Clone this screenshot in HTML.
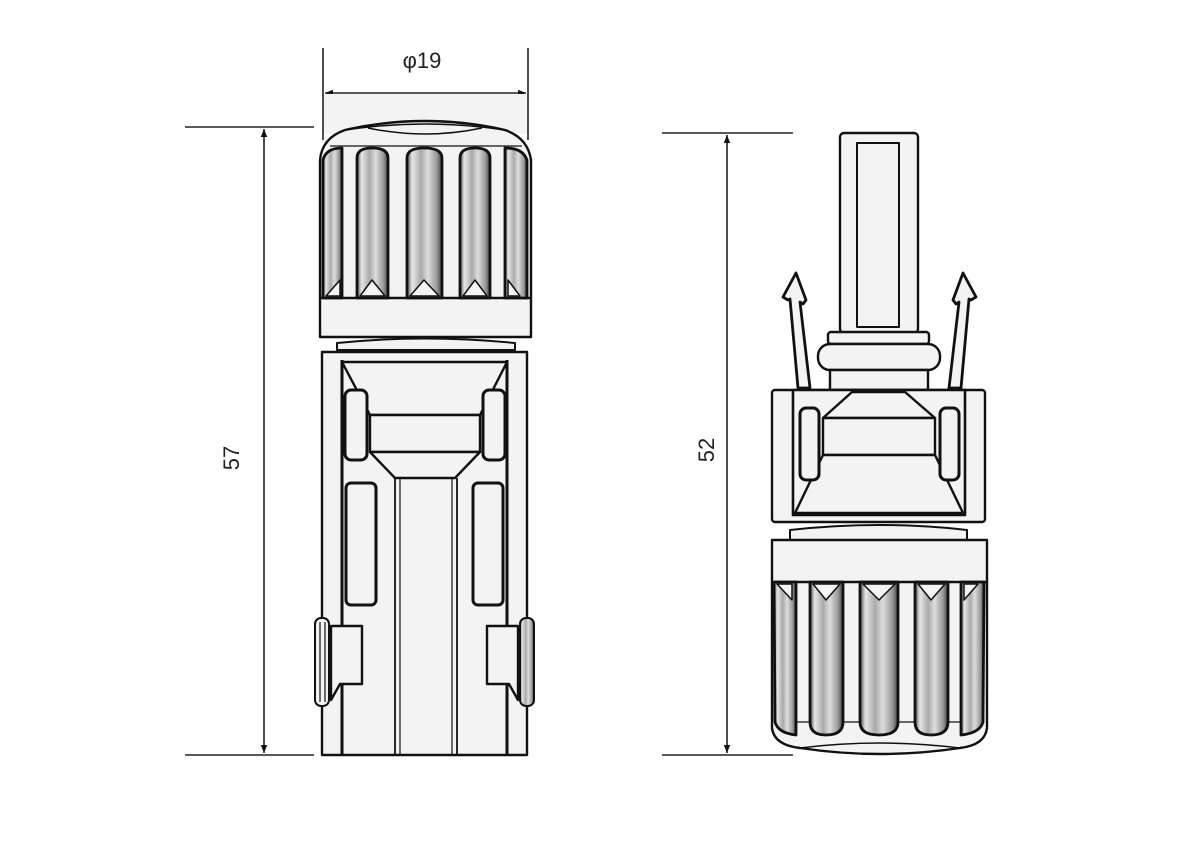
<!DOCTYPE html>
<html><head><meta charset="utf-8"><style>
html,body{margin:0;padding:0;background:#fff;}
svg{display:block;}
text{font-family:"Liberation Sans",sans-serif;fill:#222;}
</style></head><body>
<svg width="1200" height="862" viewBox="0 0 1200 862" xmlns="http://www.w3.org/2000/svg">
<defs>
<linearGradient id="rib" x1="0" x2="1">
<stop offset="0" stop-color="#555"/><stop offset="0.15" stop-color="#e6e6e6"/><stop offset="0.4" stop-color="#aaa"/><stop offset="0.6" stop-color="#ddd"/><stop offset="0.85" stop-color="#999"/><stop offset="1" stop-color="#444"/>
</linearGradient>
<marker id="ar" viewBox="0 0 10 10" refX="10" refY="5" markerWidth="10" markerHeight="8" orient="auto-start-reverse" markerUnits="userSpaceOnUse">
<path d="M0,1 L10,5 L0,9 z" fill="#111"/></marker>
</defs>

<g stroke="#222" stroke-width="1.6" fill="none">
<line x1="185" y1="127" x2="314" y2="127"/>
<line x1="185" y1="755" x2="314" y2="755"/>
<line x1="264" y1="129" x2="264" y2="753" marker-start="url(#ar)" marker-end="url(#ar)"/>
<line x1="323" y1="48" x2="323" y2="140"/>
<line x1="528" y1="48" x2="528" y2="140"/>
<line x1="325" y1="93" x2="526" y2="93" marker-start="url(#ar)" marker-end="url(#ar)"/>
</g>
<rect x="324" y="94" width="203" height="40" fill="#f3f3f3"/>
<text x="422" y="68" font-size="22" text-anchor="middle">φ19</text>
<text x="0" y="0" font-size="22" text-anchor="middle" transform="translate(239,458) rotate(-90)">57</text>

<g stroke="#111" stroke-width="2.4" fill="#f3f3f3" stroke-linejoin="round">
<path d="M320,337 L320,160 Q322,138 345,130 Q425,112 505,130 Q528,138 531,160 L531,337 Z"/>
<path d="M345,130 Q425,118 505,130" fill="none" stroke-width="1.5"/>
<path d="M368,128 Q425,140 482,128" fill="none" stroke-width="1.5"/>
<line x1="320" y1="298" x2="531" y2="298"/>
<line x1="330" y1="146" x2="522" y2="146" stroke-width="1.2"/>
<g fill="url(#rib)" stroke-width="2.8">
<path d="M323,298 L323,160 Q326,148 342,148 L342,298 Z"/>
<path d="M357,298 L357,158 Q357,148 372,148 Q388,148 388,158 L388,298 Z"/>
<path d="M407,298 L407,158 Q407,148 424,148 Q442,148 442,158 L442,298 Z"/>
<path d="M460,298 L460,158 Q460,148 475,148 Q490,148 490,158 L490,298 Z"/>
<path d="M505,298 L505,148 Q523,148 527,160 L527,298 Z"/>
</g>
<g fill="#f3f3f3" stroke-width="1.5">
<path d="M360,296 L372,280 L385,296 Z"/>
<path d="M410,296 L424,280 L439,296 Z"/>
<path d="M463,296 L475,280 L487,296 Z"/>
<path d="M326,296 L340,280 L340,296 Z"/>
<path d="M508,296 L508,280 L520,296 Z"/>
</g>
<path d="M337,343 Q425,334 515,343 L515,350 L337,350 Z" stroke-width="2"/>
<rect x="322" y="352" width="205" height="403"/>
<line x1="342" y1="360" x2="342" y2="755" stroke-width="3"/>
<line x1="507" y1="360" x2="507" y2="755" stroke-width="3"/>
<path d="M342,362 L507,362 L480,415 L370,415 Z"/>
<rect x="370" y="415" width="110" height="37"/>
<path d="M370,452 L480,452 L455,478 L395,478 Z"/>
<line x1="395" y1="478" x2="395" y2="755" stroke-width="1.8"/>
<line x1="400" y1="478" x2="400" y2="755" stroke-width="1.2"/>
<line x1="452" y1="478" x2="452" y2="755" stroke-width="1.2"/>
<line x1="457" y1="478" x2="457" y2="755" stroke-width="1.8"/>
<rect x="345" y="390" width="22" height="70" rx="6" stroke-width="3"/>
<rect x="483" y="390" width="22" height="70" rx="6" stroke-width="3"/>
<rect x="346" y="483" width="30" height="122" rx="5" stroke-width="3"/>
<rect x="473" y="483" width="30" height="122" rx="5" stroke-width="3"/>
<path d="M331,626 L362,626 L362,684 L340,684 L331,700 Z"/>
<path d="M518,626 L487,626 L487,684 L509,684 L518,700 Z"/>
<rect x="315" y="618" width="14" height="88" rx="6" stroke-width="2"/>
<line x1="320" y1="622" x2="320" y2="702" stroke-width="1.2"/>
<line x1="325" y1="622" x2="325" y2="702" stroke-width="1.2"/>
<rect x="520" y="618" width="14" height="88" rx="6" fill="url(#rib)" stroke-width="2"/>
</g>

<g stroke="#222" stroke-width="1.6" fill="none">
<line x1="662" y1="133" x2="793" y2="133"/>
<line x1="662" y1="755" x2="793" y2="755"/>
<line x1="727" y1="135" x2="727" y2="753" marker-start="url(#ar)" marker-end="url(#ar)"/>
</g>
<text x="0" y="0" font-size="22" text-anchor="middle" transform="translate(714,450) rotate(-90)">52</text>

<g stroke="#111" stroke-width="2.4" fill="#f3f3f3" stroke-linejoin="round">
<rect x="840" y="133" width="78" height="200" rx="4"/>
<rect x="857" y="143" width="42" height="184" stroke-width="2"/>
<rect x="828" y="332" width="101" height="12" rx="3"/>
<rect x="818" y="344" width="122" height="26" rx="12"/>
<rect x="830" y="370" width="98" height="20"/>
<path d="M796,273 L783,297 L788,300 L790,299 L798,388 L810,388 L800,302 L803,304 L806,300 Z" stroke-width="2.8"/>
<path d="M963,273 L976,297 L971,300 L969,299 L961,388 L949,388 L959,302 L956,304 L953,300 Z" stroke-width="2.8"/>
<rect x="772" y="390" width="213" height="132" rx="3"/>
<rect x="793" y="390" width="172" height="125" stroke-width="2.6"/>
<path d="M852,392 L905,392 L935,418 L823,418 Z"/>
<rect x="823" y="418" width="112" height="37"/>
<path d="M823,455 L935,455 L963,513 L795,513 Z"/>
<rect x="800" y="408" width="19" height="72" rx="6" stroke-width="3"/>
<rect x="940" y="408" width="19" height="72" rx="6" stroke-width="3"/>
<path d="M790,530 Q880,520 967,530 L967,540 L790,540 Z" stroke-width="2"/>
<path d="M772,540 L987,540 L987,728 Q985,745 960,748 Q880,760 800,748 Q774,745 772,728 Z"/>
<line x1="772" y1="582" x2="987" y2="582"/>
<line x1="778" y1="722" x2="982" y2="722" stroke-width="1.2"/>
<path d="M800,748 Q880,738 960,748" fill="none" stroke-width="1.5"/>
<g fill="url(#rib)" stroke-width="2.8">
<path d="M774,582 L796,582 L796,735 Q778,733 775,722 Z"/>
<path d="M810,582 L843,582 L843,722 Q843,735 826,735 Q810,735 810,722 Z"/>
<path d="M860,582 L898,582 L898,722 Q898,735 879,735 Q860,735 860,722 Z"/>
<path d="M915,582 L948,582 L948,722 Q948,735 931,735 Q915,735 915,722 Z"/>
<path d="M961,582 L984,582 L983,722 Q980,733 961,735 Z"/>
</g>
<g fill="#f3f3f3" stroke-width="1.5">
<path d="M813,584 L826,600 L840,584 Z"/>
<path d="M863,584 L879,600 L895,584 Z"/>
<path d="M918,584 L931,600 L945,584 Z"/>
<path d="M777,584 L792,600 L792,584 Z"/>
<path d="M964,584 L964,600 L978,584 Z"/>
</g>
</g>
</svg>
</body></html>
